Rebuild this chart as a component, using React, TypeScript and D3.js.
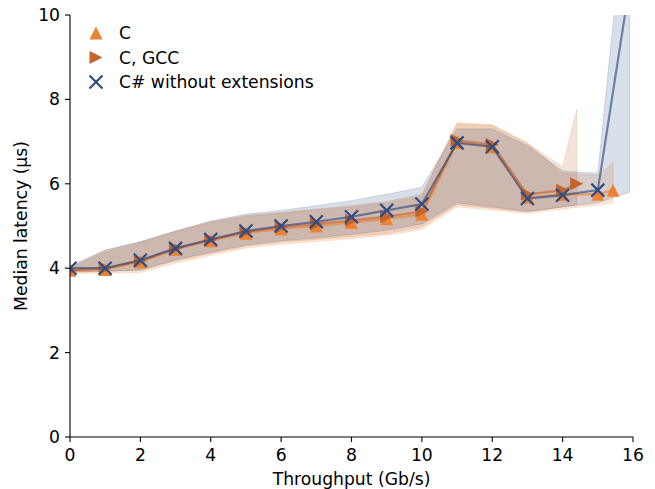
import React from 'react';
import * as d3 from 'd3';

// throughput (Gb/s) and median latency (µs), with the spread band around it
const cX = [0, 1, 2, 3, 4, 5, 6, 7, 8, 9, 10, 11, 12, 13, 14, 15, 15.43];
const cMid = [3.95, 3.97, 4.15, 4.45, 4.65, 4.83, 4.93, 5.0, 5.08, 5.17, 5.28, 6.98, 6.88, 5.68, 5.75, 5.75, 5.85];
const cLow = [3.88, 3.88, 3.9, 4.12, 4.3, 4.48, 4.57, 4.63, 4.7, 4.78, 4.92, 5.45, 5.38, 5.3, 5.4, 5.5, 5.55];
const cHigh = [4.0, 4.38, 4.6, 4.85, 5.08, 5.22, 5.3, 5.38, 5.45, 5.55, 5.7, 7.45, 7.4, 6.98, 6.25, 6.2, 6.5];

const gccX = [0, 1, 2, 3, 4, 5, 6, 7, 8, 9, 10, 11, 12, 13, 14, 14.4];
const gccMid = [3.95, 4.0, 4.17, 4.47, 4.68, 4.86, 4.97, 5.05, 5.13, 5.22, 5.35, 7.03, 6.93, 5.75, 5.85, 6.0];
const gccLow = [3.9, 3.92, 3.95, 4.17, 4.35, 4.52, 4.62, 4.68, 4.75, 4.82, 4.98, 5.5, 5.42, 5.33, 5.45, 5.5];
const gccHigh = [4.02, 4.42, 4.62, 4.88, 5.1, 5.25, 5.32, 5.4, 5.48, 5.58, 5.75, 7.42, 7.38, 6.95, 6.4, 7.75];

const csX = [0, 1, 2, 3, 4, 5, 6, 7, 8, 9, 10, 11, 12, 13, 14, 15, 15.9];
const csMid = [4.0, 4.0, 4.19, 4.47, 4.68, 4.88, 5.0, 5.1, 5.22, 5.37, 5.52, 6.97, 6.88, 5.65, 5.73, 5.85, 10.7];
const csLow = [3.92, 3.93, 3.96, 4.2, 4.38, 4.55, 4.65, 4.72, 4.8, 4.9, 5.05, 5.55, 5.45, 5.35, 5.45, 5.55, 5.8];
const csHigh = [4.05, 4.43, 4.63, 4.88, 5.12, 5.28, 5.37, 5.48, 5.6, 5.75, 5.92, 7.3, 7.3, 6.9, 6.3, 6.25, 13.6];

const xTicks = [0, 2, 4, 6, 8, 10, 12, 14, 16];
const yTicks = [0, 2, 4, 6, 8, 10];

const W = 655;
const H = 489;
const left = 70;
const right = 633;
const top = 15;
const bottom = 437;
const font = 'DejaVu Sans, sans-serif';
const fs = 17.2;

type Series = {
  name: string;
  color: string;
  marker: 'up' | 'right' | 'x';
  x: number[];
  mid: number[];
  low: number[];
  high: number[];
};

const series: Series[] = [
  { name: 'C', color: '#ee8232', marker: 'up', x: cX, mid: cMid, low: cLow, high: cHigh },
  { name: 'C, GCC', color: '#c4642a', marker: 'right', x: gccX, mid: gccMid, low: gccLow, high: gccHigh },
  { name: 'C# without extensions', color: '#2e4c84', marker: 'x', x: csX, mid: csMid, low: csLow, high: csHigh },
];

const Marker = ({ kind, color, cx, cy }: { kind: string; color: string; cx: number; cy: number }) => {
  const s = 6.5;
  if (kind === 'up') {
    return <path d={`M${cx},${cy - s} L${cx + s},${cy + s} L${cx - s},${cy + s} Z`} fill={color} />;
  }
  if (kind === 'right') {
    return <path d={`M${cx + s},${cy} L${cx - s},${cy - s} L${cx - s},${cy + s} Z`} fill={color} />;
  }
  return (
    <path
      d={`M${cx - s},${cy - s} L${cx + s},${cy + s} M${cx - s},${cy + s} L${cx + s},${cy - s}`}
      stroke={color}
      strokeWidth={2.2}
      fill="none"
    />
  );
};

export default function App() {
  const x = d3.scaleLinear().domain([0, 16]).range([left, right]);
  const y = d3.scaleLinear().domain([0, 10]).range([bottom, top]);

  const area = (s: Series) =>
    d3
      .area<number>()
      .x((_, i) => x(s.x[i]))
      .y0((_, i) => y(s.low[i]))
      .y1((_, i) => y(s.high[i]))(s.mid) || '';

  const line = (s: Series) =>
    d3
      .line<number>()
      .x((_, i) => x(s.x[i]))
      .y((d) => y(d))(s.mid) || '';

  return (
    <svg
      width={W}
      height={H}
      style={{ position: 'absolute', left: 0, top: 0, background: '#fff' }}
      fontFamily={font}
    >
      <defs>
        <clipPath id="plot">
          <rect x={left} y={top} width={right - left} height={bottom - top} />
        </clipPath>
      </defs>

      <g clipPath="url(#plot)">
        {series.map((s) => (
          <path
            key={`band-${s.name}`}
            d={area(s)}
            fill={s.color}
            fillOpacity={0.18}
            stroke={s.color}
            strokeOpacity={0.18}
            strokeWidth={1}
          />
        ))}
        {series.map((s) => (
          <g key={`line-${s.name}`}>
            <path d={line(s)} fill="none" stroke={s.color} strokeOpacity={0.65} strokeWidth={2.2} />
            {s.mid.map((v, i) => (
              <Marker key={i} kind={s.marker} color={s.color} cx={x(s.x[i])} cy={y(v)} />
            ))}
          </g>
        ))}
      </g>

      {/* axes */}
      <line x1={left} x2={right} y1={bottom} y2={bottom} stroke="#000" strokeWidth={1.1} />
      <line x1={left} x2={left} y1={top} y2={bottom} stroke="#000" strokeWidth={1.1} />
      {xTicks.map((t) => (
        <g key={`xt-${t}`}>
          <line x1={x(t)} x2={x(t)} y1={bottom} y2={bottom + 5} stroke="#000" strokeWidth={1.1} />
          <text x={x(t)} y={bottom + 24} textAnchor="middle" fontSize={fs}>
            {t}
          </text>
        </g>
      ))}
      {yTicks.map((t) => (
        <g key={`yt-${t}`}>
          <line x1={left - 5} x2={left} y1={y(t)} y2={y(t)} stroke="#000" strokeWidth={1.1} />
          <text x={left - 10} y={y(t) + 6} textAnchor="end" fontSize={fs}>
            {t}
          </text>
        </g>
      ))}
      <text x={(left + right) / 2} y={485} textAnchor="middle" fontSize={fs}>
        Throughput (Gb/s)
      </text>
      <text
        transform={`translate(27,${(top + bottom) / 2}) rotate(-90)`}
        textAnchor="middle"
        fontSize={fs}
      >
        Median latency (µs)
      </text>

      {/* legend */}
      {series.map((s, i) => (
        <g key={`lg-${s.name}`}>
          <Marker kind={s.marker} color={s.color} cx={96} cy={33 + i * 24.5} />
          <text x={119} y={33 + i * 24.5 + 6} fontSize={fs}>
            {s.name}
          </text>
        </g>
      ))}
    </svg>
  );
}
